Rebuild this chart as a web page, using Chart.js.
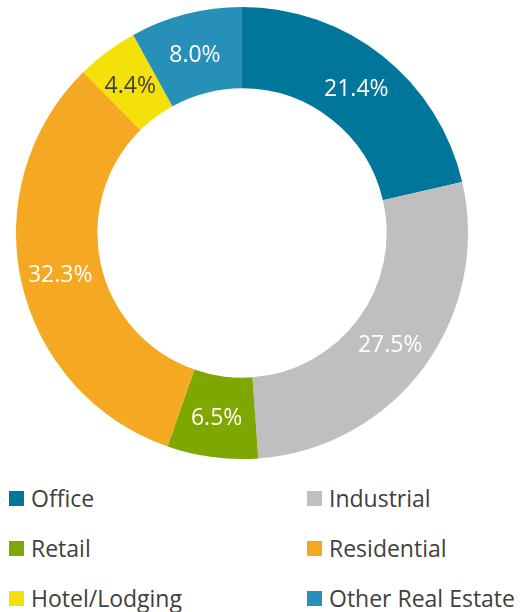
<!DOCTYPE html>
<html lang="en">
<head>
  <meta charset="UTF-8">
  <title>Real Estate Allocation</title>
  <script src="https://cdn.jsdelivr.net/npm/chart.js"></script>
  <style>
    body { margin: 0; background: #fff; font-family: "Open Sans", sans-serif; }
    #wrap { position: absolute; left: 16px; top: 7px; width: 452px; height: 452px; }
    #legend { position: absolute; left: 9px; top: 473px; width: 515px;
              display: grid; grid-template-columns: 298px 217px; row-gap: 0; }
    .item { display: flex; align-items: center; height: 50px; color: #404040; font-size: 23px; white-space: nowrap; }
    .box { width: 15px; height: 15px; margin-right: 7px; flex: none; }
  </style>
</head>
<body>
  <div id="wrap"><canvas id="chart"></canvas></div>
  <div id="legend"></div>

  <script>
    const labels = ['Office', 'Industrial', 'Retail', 'Residential', 'Hotel/Lodging', 'Other Real Estate'];
    const shares = [21.4, 27.5, 6.5, 32.3, 4.4, 8.0];
    const colors = ['#00779a', '#bfbfbf', '#7ea700', '#f5a923', '#f5e10a', '#2690b8'];
    const labelColors = ['#fff', '#fff', '#fff', '#fff', '#404040', '#fff'];

    // percent text in the middle of each ring segment,
    // centred on the digit height rather than the em box
    const sliceLabels = {
      id: 'sliceLabels',
      afterDatasetsDraw(chart) {
        const ctx = chart.ctx;
        const meta = chart.getDatasetMeta(0);
        ctx.save();
        ctx.font = '23px "Open Sans", sans-serif';
        ctx.textAlign = 'center';
        ctx.textBaseline = 'alphabetic';
        meta.data.forEach((arc, i) => {
          const p = arc.getCenterPoint();
          ctx.fillStyle = labelColors[i];
          ctx.fillText(shares[i].toFixed(1) + '%', p.x - 1, p.y + 8.5);
        });
        ctx.restore();
      }
    };

    new Chart(document.getElementById('chart'), {
      type: 'doughnut',
      data: {
        labels: labels,
        datasets: [{
          data: shares,
          backgroundColor: colors,
          borderWidth: 0,
          hoverOffset: 0
        }]
      },
      options: {
        responsive: true,
        maintainAspectRatio: false,
        animation: false,
        cutout: '64%',
        layout: { padding: 0 },
        plugins: { legend: { display: false }, tooltip: { enabled: false } }
      },
      plugins: [sliceLabels]
    });

    const legend = document.getElementById('legend');
    labels.forEach((name, i) => {
      const item = document.createElement('div');
      item.className = 'item';
      item.innerHTML = '<span class="box" style="background:' + colors[i] + '"></span>' + name;
      legend.appendChild(item);
    });
  </script>
</body>
</html>
